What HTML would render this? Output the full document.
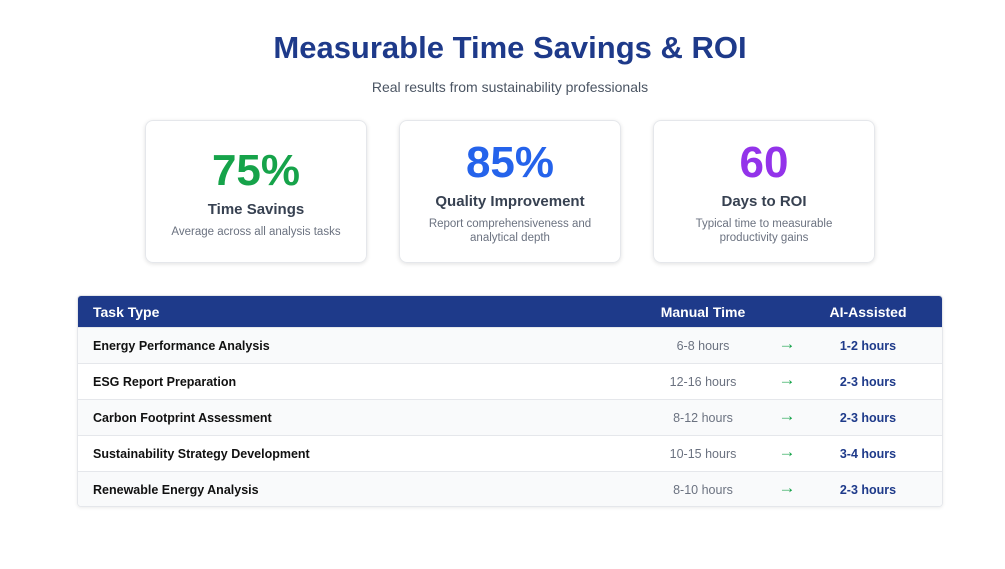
<!DOCTYPE html>
<html><head><meta charset="utf-8"><style>
*{margin:0;padding:0;box-sizing:border-box}
body{width:1005px;height:569px;background:#fff;font-family:"Liberation Sans",Arial,sans-serif;position:relative;overflow:hidden}
h1{position:absolute;top:30px;left:0;width:1020px;text-align:center;font-size:31px;font-weight:bold;color:#1e3a8a}
.sub{position:absolute;top:79px;left:0;width:1020px;text-align:center;font-size:14px;color:#4b5563}
.card{position:absolute;top:120px;width:222px;height:143px;border:1px solid #e5e7eb;border-radius:8px;box-shadow:0 1px 4px rgba(0,0,0,.12);text-align:center}
.num{font-size:44px;font-weight:bold;line-height:1}
.lab{font-size:15px;font-weight:bold;color:#374151;margin-top:8px}
.desc{font-size:11.5px;color:#6b7280;margin-top:7px;line-height:14px;padding:0 20px}
.tbl{position:absolute;left:77px;top:295px;width:866px;height:212px;border:1px solid #e5e7eb;border-radius:4px;overflow:hidden;box-shadow:0 1px 3px rgba(0,0,0,.08)}
.hd{height:31px;background:#1e3a8a;color:#fff;font-weight:bold;font-size:14px;position:relative}
.row{height:36px;border-top:1px solid #e5e7eb;position:relative;font-size:12.5px}
.row:nth-child(even){background:#f9fafb}
.c{position:absolute;top:0;height:100%;display:flex;align-items:center}
.t{left:15px;font-weight:bold;color:#111}
.m{left:560px;width:130px;justify-content:center;color:#6b7280}
.a{left:693px;width:32px;justify-content:center;color:#16a34a;font-size:17px;line-height:1;top:-2px}
.ai{left:740px;width:100px;justify-content:center;color:#1e3a8a;font-weight:bold}
.hd .m,.hd .ai{color:#fff}
</style></head><body>
<h1>Measurable Time Savings &amp; ROI</h1>
<div class="sub">Real results from sustainability professionals</div>
<div class="card" style="left:145px;padding-top:28px"><div class="num" style="color:#16a34a">75%</div><div class="lab">Time Savings</div><div class="desc">Average across all analysis tasks</div></div>
<div class="card" style="left:399px;padding-top:20px"><div class="num" style="color:#2563eb">85%</div><div class="lab">Quality Improvement</div><div class="desc">Report comprehensiveness and analytical depth</div></div>
<div class="card" style="left:653px;padding-top:20px"><div class="num" style="color:#9333ea">60</div><div class="lab">Days to ROI</div><div class="desc">Typical time to measurable productivity gains</div></div>
<div class="tbl">
<div class="hd"><div class="c t" style="color:#fff">Task Type</div><div class="c m">Manual Time</div><div class="c ai">AI-Assisted</div></div>
<div class="row"><div class="c t">Energy Performance Analysis</div><div class="c m">6-8 hours</div><div class="c a">→</div><div class="c ai">1-2 hours</div></div>
<div class="row"><div class="c t">ESG Report Preparation</div><div class="c m">12-16 hours</div><div class="c a">→</div><div class="c ai">2-3 hours</div></div>
<div class="row"><div class="c t">Carbon Footprint Assessment</div><div class="c m">8-12 hours</div><div class="c a">→</div><div class="c ai">2-3 hours</div></div>
<div class="row"><div class="c t">Sustainability Strategy Development</div><div class="c m">10-15 hours</div><div class="c a">→</div><div class="c ai">3-4 hours</div></div>
<div class="row"><div class="c t">Renewable Energy Analysis</div><div class="c m">8-10 hours</div><div class="c a">→</div><div class="c ai">2-3 hours</div></div>
</div>
</body></html>
